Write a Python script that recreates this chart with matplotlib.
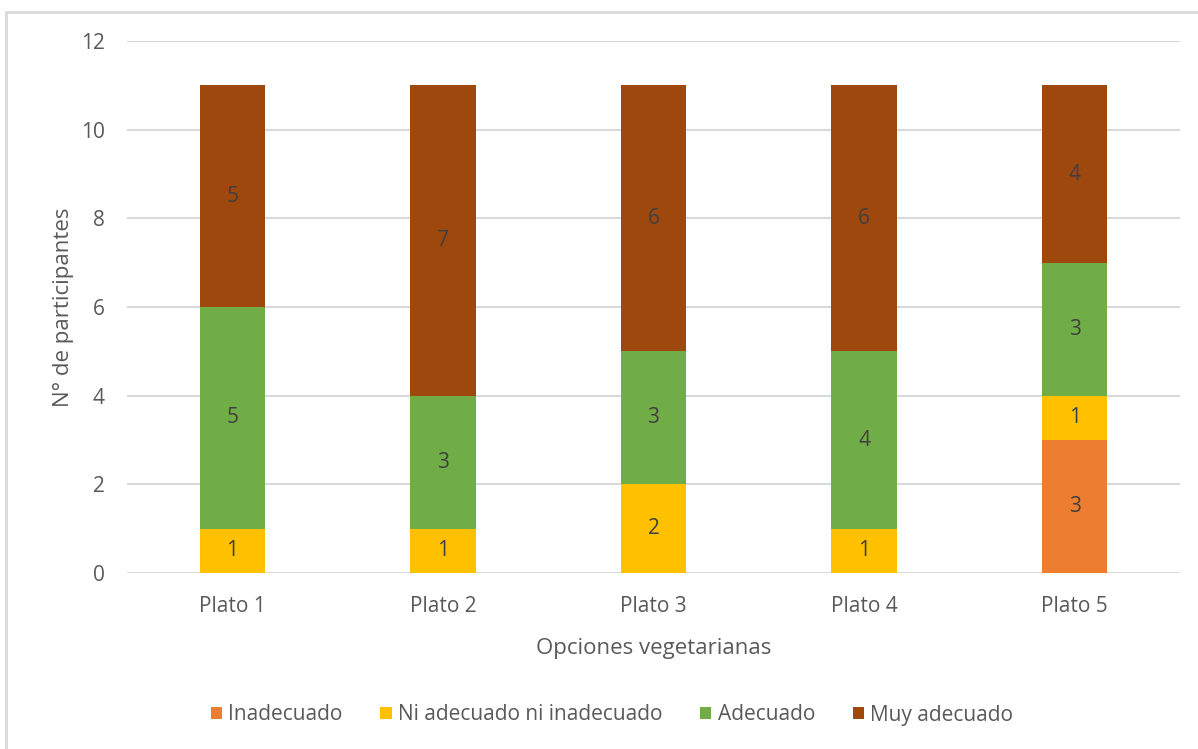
import matplotlib.pyplot as plt
import numpy as np
from matplotlib.patches import Rectangle

plt.rcParams['font.family'] = ['Open Sans', 'DejaVu Sans']

# datos de la encuesta
platos = ['Plato 1', 'Plato 2', 'Plato 3', 'Plato 4', 'Plato 5']
niveles = ['Inadecuado', 'Ni adecuado ni inadecuado', 'Adecuado', 'Muy adecuado']
inadecuado = [0, 0, 0, 0, 3]
ni_ni = [1, 1, 2, 1, 1]
adecuado = [5, 3, 3, 4, 3]
muy_adecuado = [5, 7, 6, 6, 4]
colores = ['#ED7D31', '#FFC000', '#70AD47', '#9E480E']

gris = '#595959'

fig = plt.figure(figsize=(11.98, 7.49), dpi=100)
ax = fig.add_axes([127/1198, 1 - 573/749, 1053/1198, 532/749])

# marco del grafico
fig.patches.append(Rectangle((6/1198, -0.05), 1.1, 1 - 12/749 + 0.05,
                             transform=fig.transFigure, fill=False,
                             edgecolor='#D9D9D9', linewidth=2))

x = np.arange(len(platos))
base = np.zeros(len(platos))
for serie, nombre, c in zip([inadecuado, ni_ni, adecuado, muy_adecuado], niveles, colores):
    vals = np.array(serie, dtype=float)
    ax.bar(x, vals, 0.31, bottom=base, color=c, label=nombre, zorder=3)
    for xi, b, v in zip(x, base, vals):
        if v > 0:
            ax.text(xi, b + v / 2, '%d' % v, ha='center', va='center',
                    fontsize=15, color='#404040', zorder=4)
    base += vals

ax.set_xlim(-0.5, 4.5)
ax.set_ylim(0, 12)
ax.set_yticks(range(0, 13, 2))
ax.set_xticks(x)
ax.set_xticklabels(platos)
ax.grid(axis='y', color='#D9D9D9', linewidth=1.5, zorder=0)
for s in ax.spines.values():
    s.set_visible(False)
ax.tick_params(length=0, labelsize=15, labelcolor=gris)
ax.tick_params(axis='y', pad=16)
ax.tick_params(axis='x', pad=16.5)

ax.set_xlabel('Opciones vegetarianas', fontsize=16, color=gris, labelpad=15)
ax.set_ylabel('N° de participantes', fontsize=16, color=gris, labelpad=5)

# leyenda centrada bajo el grafico
ax.legend(loc='center', bbox_to_anchor=(612/1198, 1 - 715/749), ncol=4,
          bbox_transform=fig.transFigure, frameon=False,
          fontsize=15, labelcolor=gris, handlelength=0.55, handleheight=0.55,
          handletextpad=0.3, columnspacing=1.8)

plt.savefig('out.png', dpi=100)
